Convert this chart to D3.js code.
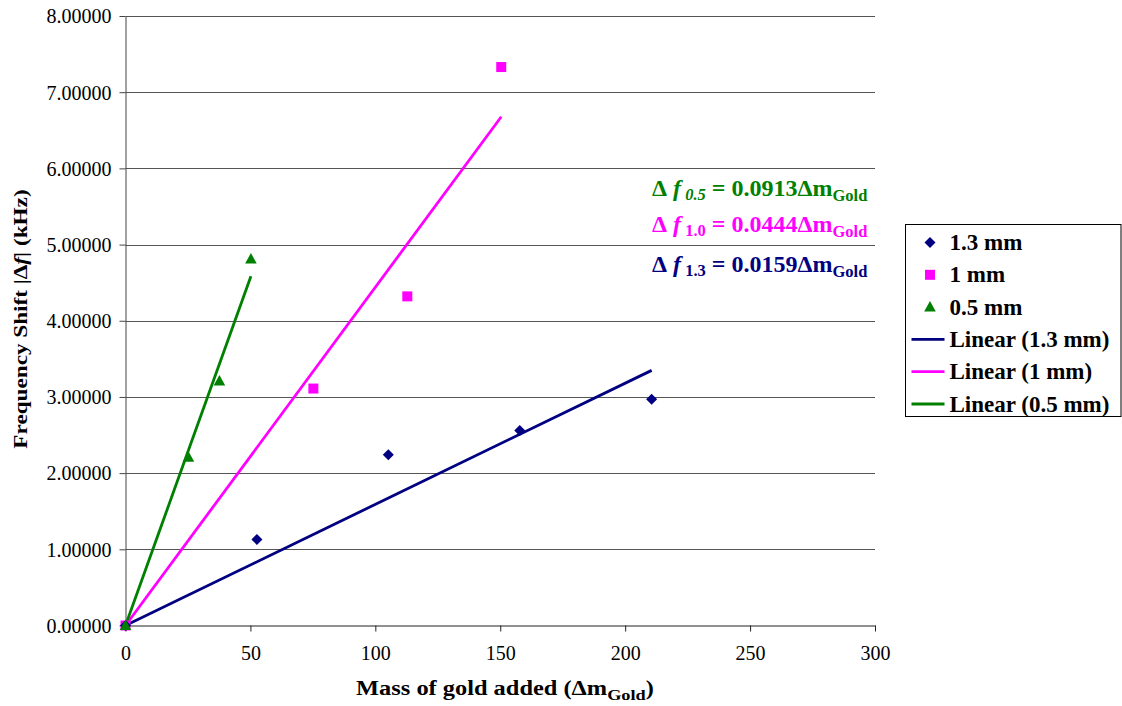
<!DOCTYPE html>
<html>
<head>
<meta charset="utf-8">
<script src="https://cdn.jsdelivr.net/npm/d3@7/dist/d3.min.js"></script>
<style>
  body { margin: 0; background: #fff; }
  svg text { font-family: "Liberation Serif", "Times New Roman", serif; }
</style>
</head>
<body>
<svg id="chart" width="1122" height="706"></svg>
<script>
// Measured frequency shifts versus mass of gold added, per layer thickness
const mass13 = [0, 52.6, 105.2, 157.8, 210.6];
const shift13 = [0, 1.13, 2.24, 2.56, 2.97];
const mass10 = [0, 75.2, 112.8, 150.4];
const shift10 = [0, 3.11, 4.32, 7.33];
const mass05 = [0, 25.2, 37.6, 50.2];
const shift05 = [0, 2.21, 3.21, 4.81];

// Fitted slopes (through origin) for each series
const slopes = { s13: 0.0159, s10: 0.0444, s05: 0.0913 };

const xTicks = [0, 50, 100, 150, 200, 250, 300];
const yTicks = [0, 1, 2, 3, 4, 5, 6, 7, 8];

const colors = { s13: "#000080", s10: "#ff00ff", s05: "#008000" };

const svg = d3.select("#chart");
const margin = { left: 125.5, right: 875, top: 16, bottom: 625.5 };

const x = d3.scaleLinear().domain([0, 300]).range([margin.left, margin.right]);
const y = d3.scaleLinear().domain([0, 8]).range([margin.bottom, margin.top]);

// Horizontal gridlines
svg.append("g")
  .selectAll("line")
  .data(yTicks.filter(d => d > 0))
  .join("line")
  .attr("x1", x(0)).attr("x2", x(300))
  .attr("y1", d => Math.round(y(d)) + 0.5).attr("y2", d => Math.round(y(d)) + 0.5)
  .attr("stroke", "#555").attr("stroke-width", 1);

// Y axis
const yAxis = d3.axisLeft(y).tickValues(yTicks).tickFormat(d3.format(".5f")).tickSize(6).tickSizeOuter(0);
const gy = svg.append("g").attr("transform", `translate(${x(0)},0)`).call(yAxis);
gy.selectAll("text")
  .style("font-size", "20px")
  .attr("fill", "#000").attr("dx", "-5").attr("dy", "0.34em");
gy.selectAll("line, path").attr("stroke", "#444");

// X axis
const xAxis = d3.axisBottom(x).tickValues(xTicks).tickFormat(d3.format("d")).tickSize(6).tickSizeOuter(0);
const gx = svg.append("g").attr("transform", `translate(0,${y(0)})`).call(xAxis);
gx.selectAll("text")
  .style("font-size", "20px")
  .attr("fill", "#000").attr("y", 34).attr("dy", 0);
gx.selectAll("line, path").attr("stroke", "#222");

// Trend lines
const series = [
  { key: "s13", xs: mass13, ys: shift13 },
  { key: "s10", xs: mass10, ys: shift10 },
  { key: "s05", xs: mass05, ys: shift05 }
];

series.forEach(s => {
  const xmax = d3.max(s.xs);
  svg.append("line")
    .attr("x1", x(0)).attr("y1", y(0))
    .attr("x2", x(xmax)).attr("y2", y(slopes[s.key] * xmax))
    .attr("stroke", colors[s.key]).attr("stroke-width", 2.8);
});

// Markers
const diamond = "M0,-5.5L5.5,0L0,5.5L-5.5,0Z";
const square = "M-5,-5H5V5H-5Z";
const triangle = "M0,-6L5.8,4.5H-5.8Z";

function drawPoints(xs, ys, sym, color) {
  svg.append("g").selectAll("path")
    .data(xs.map((v, i) => [v, ys[i]]))
    .join("path")
    .attr("d", sym)
    .attr("transform", d => `translate(${x(d[0])},${y(d[1])})`)
    .attr("fill", color);
}
drawPoints(mass10, shift10, square, colors.s10);
drawPoints(mass13, shift13, diamond, colors.s13);
drawPoints(mass05, shift05, triangle, colors.s05);

// Fit equations
const eqs = [
  { key: "s05", sub: "0.5", subItalic: true, yy: 196 },
  { key: "s10", sub: "1.0", subItalic: false, yy: 232 },
  { key: "s13", sub: "1.3", subItalic: false, yy: 272 }
];
eqs.forEach(e => {
  const t = svg.append("text")
    .attr("x", 652).attr("y", e.yy)
    .attr("fill", colors[e.key]).attr("font-size", 24).attr("font-weight", "bold");
  t.append("tspan").text("Δ");
  t.append("tspan").text(" f").attr("font-style", "italic");
  t.append("tspan").text(" " + e.sub).attr("font-size", 16.5).attr("dy", 4)
    .attr("font-style", e.subItalic ? "italic" : "normal");
  t.append("tspan").text(e.subItalic ? "  = " : " = ").attr("dy", -4);
  t.append("tspan").text(slopes[e.key].toFixed(4) + "Δm");
  t.append("tspan").text("Gold").attr("font-size", 16.5).attr("dy", 5);
});

// Axis titles
const yt = svg.append("text")
  .attr("transform", `translate(27,319) rotate(-90) scale(1.22,1)`)
  .attr("text-anchor", "middle").attr("font-size", 19).attr("font-weight", "bold");
yt.append("tspan").text("Frequency Shift |Δ");
yt.append("tspan").text("f").attr("font-style", "italic");
yt.append("tspan").text("| (kHz)");

const xt = svg.append("text")
  .attr("transform", "translate(505,695) scale(1.22,1)")
  .attr("text-anchor", "middle").attr("font-size", 20).attr("font-weight", "bold");
xt.append("tspan").text("Mass of gold added (Δm");
xt.append("tspan").text("Gold").attr("font-size", 15).attr("dy", 5);
xt.append("tspan").text(")").attr("dy", -5);

// Legend
const lg = svg.append("g").attr("transform", "translate(905.5,224.5)");
lg.append("rect").attr("width", 215.5).attr("height", 192)
  .attr("fill", "#fff").attr("stroke", "#000").attr("stroke-width", 1);
const legendItems = [
  { label: "1.3 mm", type: "pt", sym: diamond, c: colors.s13 },
  { label: "1 mm", type: "pt", sym: square, c: colors.s10 },
  { label: "0.5 mm", type: "pt", sym: triangle, c: colors.s05 },
  { label: "Linear (1.3 mm)", type: "ln", c: colors.s13 },
  { label: "Linear (1 mm)", type: "ln", c: colors.s10 },
  { label: "Linear (0.5 mm)", type: "ln", c: colors.s05 }
];
legendItems.forEach((it, i) => {
  const cy = 18 + i * 32.3;
  if (it.type === "pt") {
    lg.append("path").attr("d", it.sym).attr("transform", `translate(24.5,${cy})`).attr("fill", it.c);
  } else {
    lg.append("line").attr("x1", 6).attr("x2", 39).attr("y1", cy).attr("y2", cy)
      .attr("stroke", it.c).attr("stroke-width", 2.8);
  }
  lg.append("text").attr("x", 44).attr("y", cy + 7.5)
    .attr("font-size", 23).attr("font-weight", "bold").text(it.label);
});
</script>
</body>
</html>
